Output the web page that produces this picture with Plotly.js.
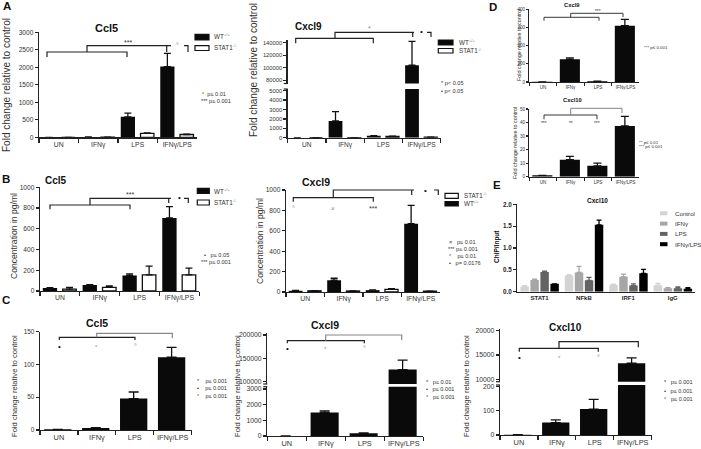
<!DOCTYPE html>
<html>
<head>
<meta charset="utf-8">
<script src="https://cdn.plot.ly/plotly-3.0.1.min.js"></script>
<style>html,body{margin:0;padding:0;background:#fff;}#chart{width:701px;height:449px;}</style>
</head>
<body>
<div id="chart"></div>
<script>
// ---------------- DATA ----------------
const categories = ['UN', 'IFNγ', 'LPS', 'IFNγ/LPS'];
const chipTargets = ['STAT1', 'NFkB', 'IRF1', 'IgG'];
const chipGroups = ['Control', 'IFNγ', 'LPS', 'IFNγ/LPS'];

// A: Ccl5 fold change, WT vs STAT1-/-
const aCcl5WT = [0, 12, 585, 2020];
const aCcl5WTErr = [0, 3, 105, 380];
const aCcl5KO = [0, 2, 110, 80];
const aCcl5KOErr = [0, 1, 15, 12];
// A: Cxcl9 fold change
const aCxcl9WT = [0, 1780, 200, 104000];
const aCxcl9WTErr = [0, 1000, 30, 38000];
const aCxcl9KO = [0, 10, 150, 60];
const aCxcl9KOErr = [0, 0, 20, 10];
// D: fold change
const dCxcl9 = [1, 125, 4, 310];
const dCxcl9Err = [0, 8, 1, 35];
const dCxcl10 = [1, 12.5, 8, 37.5];
const dCxcl10Err = [0, 2.5, 2, 7];
// B: concentration pg/ml
const bCcl5WT = [28, 58, 150, 705];
const bCcl5WTErr = [4, 4, 15, 108];
const bCcl5KO = [18, 35, 155, 155];
const bCcl5KOErr = [17, 13, 85, 65];
const bCxcl9WT = [12, 115, 18, 670];
const bCxcl9WTErr = [3, 20, 3, 180];
const bCxcl9KO = [12, 10, 25, 8];
const bCxcl9KOErr = [2, 2, 7, 1];
// E: ChIP/Input at Cxcl10
const eControl = [0.12, 0.37, 0.16, 0.15];
const eControlErr = [0.02, 0.02, 0.01, 0.04];
const eIFNg = [0.27, 0.44, 0.34, 0.08];
const eIFNgErr = [0.02, 0.14, 0.06, 0.01];
const eLPS = [0.45, 0.26, 0.14, 0.08];
const eLPSErr = [0.02, 0.07, 0.04, 0.03];
const eBoth = [0.18, 1.53, 0.42, 0.07];
const eBothErr = [0, 0.11, 0.09, 0.02];
// C: fold change
const cCcl5 = [1, 3, 48, 111];
const cCcl5Err = [0, 0.5, 10, 15];
const cCxcl9 = [0, 1500, 170, 126000];
const cCxcl9Err = [0, 100, 30, 20000];
const cCxcl10 = [1, 51, 107, 13300];
const cCxcl10Err = [0, 11, 40, 1100];

// ---------------- HELPERS ----------------
const W = 701, H = 449;
const FONT = 'Liberation Sans, Arial, sans-serif';
const INK = '#222';
const fx = p => p / W;
const fy = p => 1 - p / H;
const xdom = (a, b) => [fx(a), fx(b)];
const ydom = (top, bottom) => [fy(bottom), fy(top)];

function xAxis(dom, anchor, size, extra) {
  return Object.assign({
    domain: dom, anchor: anchor, type: 'category', range: [-0.5, 3.5],
    showline: true, linecolor: INK, linewidth: 1.3,
    ticks: 'outside', tickson: 'boundaries', ticklen: 4, tickwidth: 1.2, tickcolor: INK,
    tickangle: 0,
    tickfont: {size: size, color: '#333', family: FONT},
    showgrid: false, zeroline: false, fixedrange: true
  }, extra || {});
}
function yAxis(dom, anchor, range, size, extra) {
  return Object.assign({
    domain: dom, anchor: anchor, range: range,
    showline: true, linecolor: INK, linewidth: 1.3,
    ticks: 'outside', ticklen: 3, tickwidth: 1.2, tickcolor: INK,
    tickfont: {size: size, color: '#333', family: FONT},
    tickformat: 'd', showgrid: false, zeroline: false, fixedrange: true
  }, extra || {});
}
function bar(xcat, y, err, xa, ya, fill, offset, width, capw) {
  const isWhite = fill === '#fff';
  return {
    type: 'bar', x: xcat, y: y, xaxis: xa, yaxis: ya,
    offset: offset, width: width, showlegend: false, hoverinfo: 'skip',
    marker: {color: fill, line: {color: isWhite ? '#111' : fill, width: isWhite ? 1.3 : 0}},
    error_y: {type: 'data', array: err.map(e => e > 0 ? e : NaN), symmetric: false, arrayminus: err.map(() => 0),
      color: (isWhite || fill === '#0a0a0a') ? '#111' : fill, thickness: 1.3, width: capw}
  };
}
const BLACK = '#0a0a0a', WHITE = '#fff';

const annotations = [];
const shapes = [];
function txt(x, y, text, size, o) {
  o = o || {};
  annotations.push({
    xref: 'paper', yref: 'paper', x: fx(x), y: fy(y), text: text, showarrow: false,
    xanchor: o.xanchor || 'center', yanchor: 'middle', textangle: o.angle || 0,
    font: {size: size, color: o.color || '#333', family: FONT, weight: o.bold ? 700 : 400}
  });
}
function line(pts, color, w) {
  shapes.push({type: 'path', xref: 'paper', yref: 'paper',
    path: 'M' + pts.map(p => fx(p[0]) + ',' + fy(p[1])).join('L'),
    line: {color: color || INK, width: w || 1.2}});
}
function box(x0, y0, x1, y1, fill) {
  shapes.push({type: 'rect', xref: 'paper', yref: 'paper', x0: fx(x0), x1: fx(x1), y0: fy(y1), y1: fy(y0),
    fillcolor: fill, line: {color: '#111', width: 1.2}});
}
// legend label with a superscript genotype, as two plain texts
function legendLabel(x, y, name, sup) {
  txt(x, y, name, 6.3, {xanchor: 'left'});
  const w = name === 'WT' ? 9.5 : 19.5;
  txt(x + w, y - 2, sup, 4, {xanchor: 'left', color: '#777'});
}
const GRAY = '#888';

// ---------------- TRACES ----------------
const traces = [];
// A Ccl5 (x, y)
traces.push(bar(categories, aCcl5WT, aCcl5WTErr, 'x', 'y', BLACK, -0.43, 0.36, 3.5));
traces.push(bar(categories, aCcl5KO, aCcl5KOErr, 'x', 'y', WHITE, 0.07, 0.34, 3.5));
// A Cxcl9 (x2 with y2 lower, y3 upper)
traces.push(bar(categories, aCxcl9WT, aCxcl9WTErr, 'x2', 'y2', BLACK, -0.43, 0.36, 3.5));
traces.push(bar(categories, aCxcl9KO, aCxcl9KOErr, 'x2', 'y2', WHITE, 0.07, 0.34, 3.5));
traces.push(bar(categories, aCxcl9WT, aCxcl9WTErr, 'x2', 'y3', BLACK, -0.43, 0.36, 3.5));
traces.push(bar(categories, aCxcl9KO, aCxcl9KOErr, 'x2', 'y3', WHITE, 0.07, 0.34, 3.5));
// D
traces.push(bar(categories, dCxcl9, dCxcl9Err, 'x4', 'y4', BLACK, -0.39, 0.73, 4));
traces.push(bar(categories, dCxcl10, dCxcl10Err, 'x5', 'y5', BLACK, -0.39, 0.73, 4));
// B
traces.push(bar(categories, bCcl5WT, bCcl5WTErr, 'x6', 'y6', BLACK, -0.43, 0.36, 3.5));
traces.push(bar(categories, bCcl5KO, bCcl5KOErr, 'x6', 'y6', WHITE, 0.07, 0.34, 3.5));
traces.push(bar(categories, bCxcl9WT, bCxcl9WTErr, 'x7', 'y7', BLACK, -0.43, 0.36, 3.5));
traces.push(bar(categories, bCxcl9KO, bCxcl9KOErr, 'x7', 'y7', WHITE, 0.07, 0.34, 3.5));
// E
const eSeries = [[eControl, eControlErr, '#d3d3d3'], [eIFNg, eIFNgErr, '#a6a6a6'], [eLPS, eLPSErr, '#636363'], [eBoth, eBothErr, '#000000']];
eSeries.forEach((s, i) => traces.push(bar(chipTargets, s[0], s[1], 'x8', 'y8', s[2], -0.43 + i * 0.225, 0.19, 2.5)));
// C
traces.push(bar(categories, cCcl5, cCcl5Err, 'x9', 'y9', BLACK, -0.39, 0.72, 5));
traces.push(bar(categories, cCxcl9, cCxcl9Err, 'x10', 'y10', BLACK, -0.39, 0.72, 5));
traces.push(bar(categories, cCxcl9, cCxcl9Err, 'x10', 'y11', BLACK, -0.39, 0.72, 5));
traces.push(bar(categories, cCxcl10, cCxcl10Err, 'x11', 'y12', BLACK, -0.39, 0.72, 5));
traces.push(bar(categories, cCxcl10, cCxcl10Err, 'x11', 'y13', BLACK, -0.39, 0.72, 5));

// ---------------- AXES ----------------
const layout = {
  width: W, height: H, margin: {l: 0, r: 0, t: 0, b: 0},
  paper_bgcolor: '#fff', plot_bgcolor: 'rgba(0,0,0,0)',
  showlegend: false, barmode: 'overlay', font: {family: FONT, color: '#333'},
  // A Ccl5
  xaxis: xAxis(xdom(39, 197), 'y', 6.8),
  yaxis: yAxis(ydom(32.3, 137.3), 'x', [0, 3000], 6.6, {dtick: 500}),
  // A Cxcl9
  xaxis2: xAxis(xdom(287.7, 440.7), 'y2', 6.6),
  yaxis2: yAxis(ydom(89, 137.7), 'x2', [0, 5180], 5.8, {dtick: 1000}),
  yaxis3: yAxis(ydom(40, 83.5), 'x2', [74900, 144200], 5.8, {tickvals: [80000, 100000, 120000, 140000]}),
  // D
  xaxis4: xAxis(xdom(529.3, 639.3), 'y4', 4.6, {ticklen: 3}),
  yaxis4: yAxis(ydom(9.3, 82), 'x4', [0, 400], 4.6, {dtick: 100, ticklen: 2}),
  xaxis5: xAxis(xdom(529.3, 639.3), 'y5', 4.6, {ticklen: 3}),
  yaxis5: yAxis(ydom(109, 176.7), 'x5', [0, 50], 4.6, {dtick: 10, ticklen: 2}),
  // B
  xaxis6: xAxis(xdom(40, 199.3), 'y6', 6.8),
  yaxis6: yAxis(ydom(187.3, 291), 'x6', [0, 1000], 6.6, {dtick: 200}),
  xaxis7: xAxis(xdom(286, 440), 'y7', 6.8),
  yaxis7: yAxis(ydom(190, 292), 'x7', [0, 1000], 6.6, {dtick: 200}),
  // E
  xaxis8: xAxis(xdom(517.3, 695), 'y8', 6, {ticks: '', tickfont: {size: 6, color: '#222', family: FONT, weight: 700}}),
  yaxis8: yAxis(ydom(204.3, 291.7), 'x8', [0, 2.0], 6.5, {dtick: 0.5, tickformat: '.1f', tickfont: {size: 6.3, color: '#222', family: FONT, weight: 700}}),
  // C
  xaxis9: xAxis(xdom(40, 191.7), 'y9', 7.4),
  yaxis9: yAxis(ydom(331.7, 430), 'x9', [0, 150], 6.4, {dtick: 50}),
  xaxis10: xAxis(xdom(267.3, 423.3), 'y10', 7.4),
  yaxis10: yAxis(ydom(386.7, 436), 'x10', [0, 3150], 6.8, {dtick: 1000}),
  yaxis11: yAxis(ydom(333.3, 384), 'x10', [95000, 203600], 6.8, {tickvals: [100000, 150000, 200000]}),
  xaxis11: xAxis(xdom(500, 651.7), 'y12', 7.4),
  yaxis12: yAxis(ydom(385, 435), 'x11', [0, 206], 6.8, {dtick: 100}),
  yaxis13: yAxis(ydom(329.3, 381.7), 'x11', [9500, 20300], 6.8, {tickvals: [10000, 15000, 20000]})
};

// ---------------- TEXT: panel letters, titles, axis titles ----------------
[['A', 7, 6], ['B', 6, 179], ['C', 6, 300], ['D', 493, 7], ['E', 497, 185]].forEach(l => txt(l[1], l[2], l[0], 11.5, {bold: true, color: '#111'}));
txt(107, 28, 'Ccl5', 11, {bold: true, color: '#111'});
txt(308, 26.7, 'Cxcl9', 10, {bold: true, color: '#111'});
txt(572, 4.5, 'Cxcl9', 5.8, {bold: true, color: '#111'});
txt(572, 100, 'Cxcl10', 5.8, {bold: true, color: '#111'});
txt(56, 181, 'Ccl5', 10, {bold: true, color: '#111'});
txt(316, 181.7, 'Cxcl9', 10.5, {bold: true, color: '#111'});
txt(597, 200, 'Cxcl10', 6.5, {bold: true, color: '#111'});
txt(97, 323, 'Ccl5', 10.5, {bold: true, color: '#111'});
txt(325, 325, 'Cxcl9', 10.5, {bold: true, color: '#111'});
txt(565, 327, 'Cxcl10', 10, {bold: true, color: '#111'});

const fcTitle = 'Fold change relative to control';
txt(7, 85, fcTitle, 10, {angle: -90});
txt(253, 70, fcTitle, 10, {angle: -90});
txt(519, 45, fcTitle, 5.4, {angle: -90});
txt(515, 143, fcTitle, 5.4, {angle: -90});
txt(14, 236, 'Concentration in pg/ml', 8.6, {angle: -90});
txt(259.5, 241.5, 'Concentration in pg/ml', 8.6, {angle: -90});
txt(497, 247, 'ChIP/Input', 6.5, {angle: -90, bold: true, color: '#111'});
txt(14, 386, fcTitle, 7.6, {angle: -90});
txt(237, 386, fcTitle, 7.6, {angle: -90});
txt(466, 386, fcTitle, 7.6, {angle: -90});

// ---------------- LEGENDS (boxes + labels) ----------------
box(195, 34.3, 209, 40, BLACK); legendLabel(212, 37, 'WT', '+/+');
box(195, 45.7, 209, 50.5, WHITE); legendLabel(212, 48, 'STAT1', '-/-');
box(438.3, 40, 453, 45, BLACK); legendLabel(457, 42.5, 'WT', '+/+');
box(438.3, 48.5, 453, 53, WHITE); legendLabel(457, 51, 'STAT1', '-/-');
box(197.3, 188.3, 209.3, 193.3, BLACK); legendLabel(212, 191, 'WT', '+/+');
box(197.3, 200, 209.3, 205, WHITE); legendLabel(212, 202.5, 'STAT1', '-/-');
box(445, 193.3, 458.3, 198.3, WHITE); legendLabel(461.7, 195.8, 'STAT1', '-/-');
box(445, 201.5, 458.3, 206, BLACK); legendLabel(461.7, 203.8, 'WT', '+/+');
eSeries.forEach((s, i) => {
  const yy = 213.3 + i * 10.3;
  shapes.push({type: 'rect', xref: 'paper', yref: 'paper', x0: fx(660), x1: fx(667.5), y0: fy(yy + 2), y1: fy(yy - 2),
    fillcolor: s[2], line: {width: 0}});
  txt(672.5, yy, chipGroups[i], 6.2, {xanchor: 'left'});
});

// ---------------- SIGNIFICANCE BRACKETS & NOTES ----------------
// A Ccl5
line([[47, 57], [47, 52], [127, 52], [127, 57]]);
line([[87, 52], [87, 45.7], [171, 45.7]]);
line([[166.7, 45.7], [166.7, 52]]);
line([[184, 45.7], [188, 45.7], [188, 52]]);
txt(128, 42, '***', 7);
txt(177.5, 45, '°', 7, {color: GRAY});
txt(200, 94, '°  p≤ 0.01', 5.6, {xanchor: 'left'});
txt(199, 100.5, '*** p≤ 0.001', 5.6, {xanchor: 'left'});
// A Cxcl9
line([[295.7, 43.3], [295.7, 38.3], [373.3, 38.3], [373.3, 43.3]]);
line([[335, 38.3], [335, 32.3], [414, 32.3]]);
line([[412.7, 32.3], [412.7, 37]]);
line([[427, 32.3], [431, 32.3], [431, 37]]);
txt(370, 29, '*', 7, {color: GRAY});
txt(421.7, 31.5, '•', 8, {color: '#111'});
txt(439, 83.3, '* p< 0.05', 5.6, {xanchor: 'left'});
txt(439, 91, '• p< 0.05', 5.6, {xanchor: 'left'});
// D Cxcl9
line([[544, 20.7], [544, 17.3], [599, 17.3], [599, 20.7]], INK, 0.9);
line([[570.7, 17.3], [570.7, 13.3], [623, 13.3], [623, 17]], INK, 0.9);
txt(598, 11, '***', 4.8);
txt(642, 47, '*** p≤ 0.001', 4.4, {xanchor: 'left'});
// D Cxcl10
line([[544, 119.3], [544, 115], [597, 115], [597, 119.3]], INK, 0.9);
line([[570.7, 115], [570.7, 108.3], [622, 108.3], [622, 113]], '#777', 0.9);
txt(544.3, 124, '***', 4.8); txt(570.7, 124, '**', 4.8); txt(597, 124, '***', 4.8);
txt(637, 142.3, '** p≤ 0.01', 4.4, {xanchor: 'left'});
txt(637, 147, '*** p≤ 0.001', 4.4, {xanchor: 'left'});
// B Ccl5
line([[50, 209.3], [50, 205], [130, 205], [130, 209.3]]);
line([[90, 205], [90, 198.3], [171, 198.3]]);
line([[168.7, 198.3], [168.7, 203]]);
line([[184, 198.3], [188.3, 198.3], [188.3, 203]]);
txt(130, 194.5, '***', 7);
txt(179, 197.5, '•', 8, {color: '#111'});
txt(202, 255, '•   p≤ 0.05', 5.6, {xanchor: 'left'});
txt(199, 262, '*** p≤ 0.001', 5.6, {xanchor: 'left'});
// B Cxcl9
line([[293.3, 201.7], [293.3, 197.7], [373.3, 197.7], [373.3, 201.7]]);
line([[333.3, 197.7], [333.3, 190], [414, 190]]);
line([[411.7, 190], [411.7, 195]]);
line([[434, 190], [438.3, 190], [438.3, 195]]);
txt(293.3, 208, '°', 7, {color: GRAY});
txt(333.3, 208, '×', 6.5, {color: GRAY});
txt(373.3, 208.5, '***', 7);
txt(425.7, 190.5, '•', 8, {color: '#111'});
txt(447, 241.7, '×   p≤ 0.01', 5.6, {xanchor: 'left'});
txt(446, 249, '*** p≤ 0.001', 5.6, {xanchor: 'left'});
txt(447, 256, '°    p≤ 0.01', 5.6, {xanchor: 'left'});
txt(447, 263.3, '•   p= 0.0176', 5.6, {xanchor: 'left'});
// C Ccl5
line([[59.3, 340], [59.3, 337.3], [135, 337.3], [135, 340]]);
line([[96.7, 337.3], [96.7, 333.3], [172.3, 333.3], [172.3, 338.3]], GRAY);
txt(59.3, 346, '•', 8, {color: '#111'});
txt(96.7, 346.5, '*', 6, {color: GRAY});
txt(135, 346, '°', 7, {color: GRAY});
txt(195, 381, '*    p≤ 0.001', 5.6, {xanchor: 'left'});
txt(195, 388.3, '•    p≤ 0.001', 5.6, {xanchor: 'left'});
txt(195, 395.7, '°    p≤ 0.001', 5.6, {xanchor: 'left'});
// C Cxcl9
line([[287.3, 343.3], [287.3, 340.7], [364.3, 340.7], [364.3, 343.3]]);
line([[325.7, 340.7], [325.7, 335], [401.7, 335], [401.7, 340]], GRAY);
txt(287.3, 348.3, '•', 8, {color: '#111'});
txt(325.7, 348.8, '*', 6, {color: GRAY});
txt(364.3, 348.3, '°', 7, {color: GRAY});
txt(424, 381.7, '*   p≤ 0.01', 5.6, {xanchor: 'left'});
txt(424, 389.3, '•   p≤ 0.001', 5.6, {xanchor: 'left'});
txt(424, 397.3, '°   p≤ 0.001', 5.6, {xanchor: 'left'});
// C Cxcl10
line([[519.3, 351.7], [519.3, 348.3], [598.3, 348.3], [598.3, 351.7]]);
line([[559, 348.3], [559, 341.7], [638.3, 341.7], [638.3, 347.3]]);
txt(519.3, 357.3, '•', 8, {color: '#111'});
txt(559, 357.8, '*', 6, {color: GRAY});
txt(598.3, 357.3, '°', 7, {color: GRAY});
txt(662, 381.7, '*   p≤ 0.001', 5.6, {xanchor: 'left'});
txt(662, 391, '•   p≤ 0.001', 5.6, {xanchor: 'left'});
txt(662, 399, '°   p≤ 0.001', 5.6, {xanchor: 'left'});

// axis break marks
[[287.7, 83.5], [287.7, 89], [267.3, 384], [267.3, 386.7], [500, 381.7], [500, 385]].forEach(b => line([[b[0] - 4, b[1]], [b[0], b[1]]], INK, 1.2));

layout.annotations = annotations;
layout.shapes = shapes;
Plotly.newPlot('chart', traces, layout, {displayModeBar: false, staticPlot: true});
</script>
</body>
</html>
